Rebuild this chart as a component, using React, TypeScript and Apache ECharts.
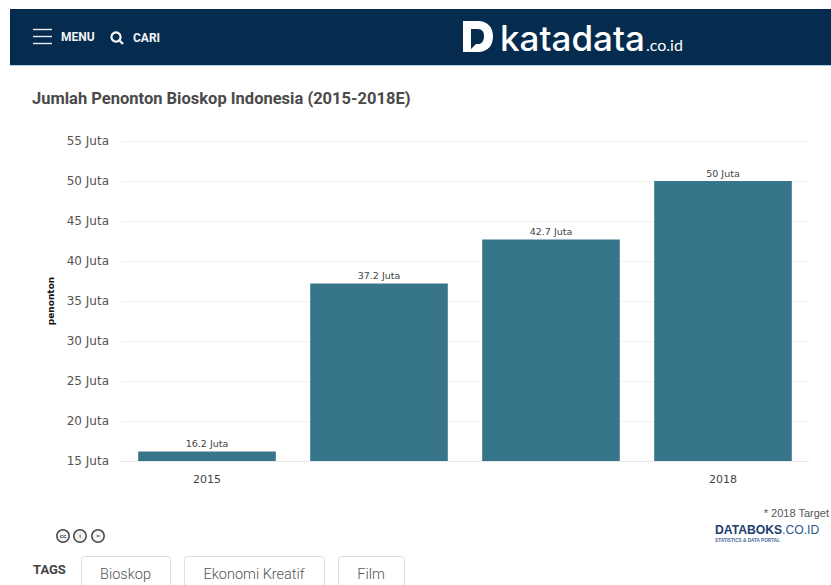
import React, { useEffect, useRef } from "react";
import * as echarts from "echarts";

const years = ["2015", "2016", "2017", "2018"];
const shownYears = ["2015", "2018"];
const viewers = [16.2, 37.2, 42.7, 50];
const tags = ["Bioskop", "Ekonomi Kreatif", "Film"];
const tagEdges = [
  [81, 170],
  [184, 324],
  [338, 404],
];

const NAVY = "#052c4e";
const BAR = "#37758a";

// Brand mark: a solid "D" with a speech-bubble notch
echarts.graphic.registerShape(
  "brandD",
  echarts.graphic.extendPath(
    "M0 0 L15 0 C25 0 30 7 30 15.5 C30 24 25 31 15 31 L0 31 Z M8 8 L8 28 L13 23 L15 23 C19 23 21 19.5 21 15.2 C21 11 19 8 15 8 Z",
    {}
  )
);

const line = (x1: number, y1: number, x2: number, y2: number, stroke: string, lineWidth = 1) => ({
  type: "line",
  shape: { x1, y1, x2, y2 },
  style: { stroke, lineWidth },
});

const label = (
  x: number,
  y: number,
  text: string,
  font: string,
  fill: string,
  align = "left"
) => ({
  type: "text",
  x,
  y,
  style: { text, font, fill, align, verticalAlign: "middle" },
});

const ccIcon = (cx: number, glyph: string) => ({
  type: "group",
  children: [
    {
      type: "circle",
      shape: { cx, cy: 536, r: 6.2 },
      style: { fill: "#f4f4f4", stroke: "#444", lineWidth: 1.4 },
    },
    label(cx, 536, glyph, "bold 6px 'Liberation Sans'", "#444", "center"),
  ],
});

function buildGraphics() {
  const tagBoxes = tags.flatMap((tag, i) => {
    const [left, right] = tagEdges[i];
    return [
      {
        type: "rect",
        shape: { x: left + 0.5, y: 556.5, width: right - left, height: 40, r: 3 },
        style: { fill: "#fff", stroke: "#ddd", lineWidth: 1 },
      },
      label((left + right) / 2, 574, tag, "300 14.5px Roboto", "#555", "center"),
    ];
  });

  return [
    { type: "rect", shape: { x: 10, y: 9, width: 821, height: 56 }, style: { fill: NAVY } },
    line(10, 65.5, 831, 65.5, "#a9cfe2"),
    line(33, 29.5, 52, 29.5, "#e8edf1", 1.4),
    line(33, 36.5, 52, 36.5, "#e8edf1", 1.4),
    line(33, 43.5, 52, 43.5, "#e8edf1", 1.4),
    label(61, 37, "MENU", "bold 12px Roboto", "#f2f5f7"),
    {
      type: "circle",
      shape: { cx: 116, cy: 37, r: 4.6 },
      style: { fill: "none", stroke: "#f2f5f7", lineWidth: 2.2 },
    },
    line(119, 40, 123, 44, "#f2f5f7", 2.4),
    label(133, 38, "CARI", "bold 12px Roboto", "#f2f5f7"),
    { type: "brandD", x: 463, y: 21, style: { fill: "#fff", fillRule: "evenodd" } },
    label(500, 38, "katadata", "500 35px Inter", "#fff"),
    label(646, 44, ".co.id", "16px Lato", "#fff"),
    label(32, 98, "Jumlah Penonton Bioskop Indonesia (2015-2018E)", "bold 16.5px Roboto", "#4a4a4a"),
    ccIcon(63, "cc"),
    ccIcon(80, "i"),
    ccIcon(98, "="),
    label(33, 569, "TAGS", "bold 13px Roboto", "#444"),
    ...tagBoxes,
    label(829, 513, "* 2018 Target", "11px 'Liberation Sans'", "#555", "right"),
    label(715, 530, "DATABOKS", "bold 12.2px 'Liberation Sans'", "#1d3f6e"),
    label(782, 530, ".CO.ID", "12.2px 'Liberation Sans'", "#2a5a8c"),
    label(715, 540, "STATISTICS & DATA PORTAL", "bold 4.7px 'Liberation Sans'", "#4a6b94"),
  ];
}

export default function App() {
  const host = useRef<HTMLDivElement>(null);

  useEffect(() => {
    document.body.style.margin = "0";
    const chart = echarts.init(host.current!, undefined, { renderer: "svg" });
    chart.setOption({
      animation: false,
      backgroundColor: "#fff",
      textStyle: { fontFamily: "'DejaVu Sans'" },
      grid: { left: 121, right: 22, top: 141, bottom: 124 },
      xAxis: {
        type: "category",
        data: years,
        axisTick: { show: false },
        axisLine: { lineStyle: { color: "#e6e6e6" } },
        axisLabel: {
          color: "#444",
          fontSize: 11,
          margin: 13,
          interval: (_: number, value: string) => shownYears.includes(value),
        },
      },
      yAxis: {
        type: "value",
        min: 15,
        max: 55,
        interval: 5,
        name: "penonton",
        nameLocation: "middle",
        nameGap: 62,
        nameTextStyle: { color: "#111", fontSize: 9, fontWeight: "bold" },
        axisLine: { show: false },
        axisTick: { show: false },
        axisLabel: {
          color: "#555",
          fontSize: 12,
          margin: 12,
          formatter: (v: number) => `${v} Juta`,
        },
        splitLine: { lineStyle: { color: "#f1f1f1" } },
      },
      series: [
        {
          type: "bar",
          data: viewers,
          barCategoryGap: "20%",
          itemStyle: { color: BAR },
          label: {
            show: true,
            position: "top",
            distance: 3,
            color: "#444",
            fontSize: 9.5,
            formatter: (p: { value: number }) => `${p.value} Juta`,
          },
        },
      ],
      graphic: { elements: buildGraphics() },
    });
    return () => chart.dispose();
  }, []);

  return <div ref={host} style={{ width: 831, height: 585 }} />;
}
